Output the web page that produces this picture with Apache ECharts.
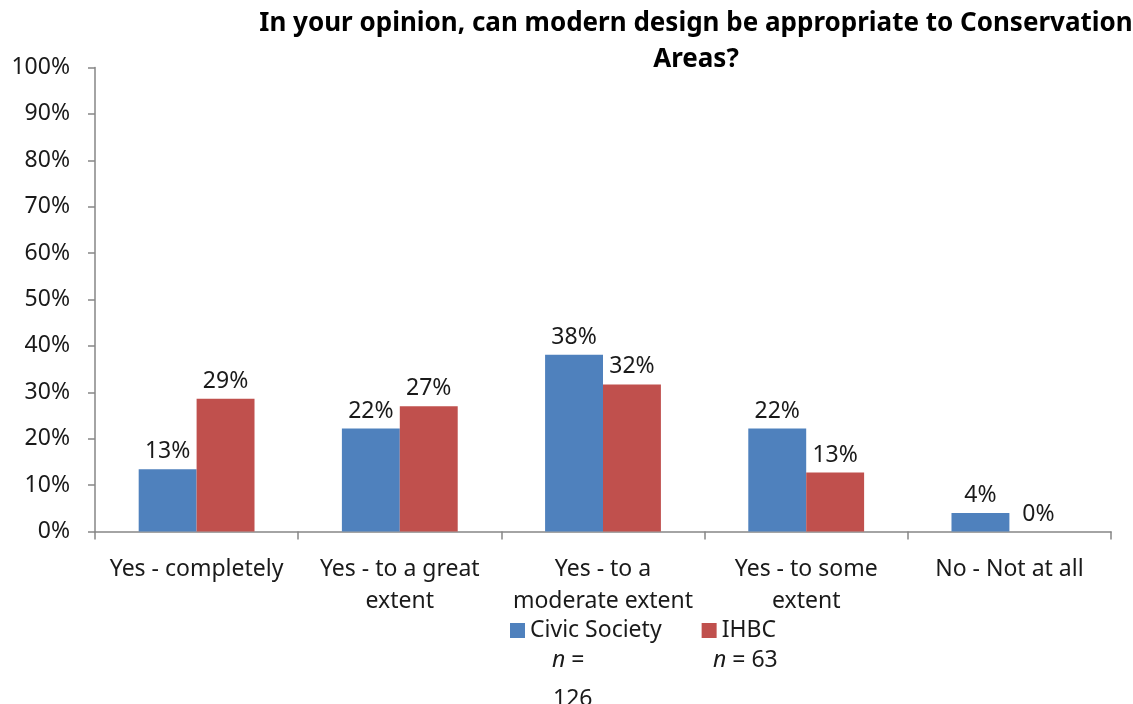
<!DOCTYPE html>
<html><head><meta charset="utf-8">
<script src="https://cdn.jsdelivr.net/npm/echarts@6/dist/echarts.min.js"></script>
<style>html,body{margin:0;padding:0;background:#fff}#c{width:1133px;height:704px}</style>
</head><body><div id="c"></div>
<script>
var categories = ['Yes - completely', 'Yes - to a great extent', 'Yes - to a moderate extent', 'Yes - to some extent', 'No - Not at all'];
var tickLabels = ['Yes - completely', 'Yes - to a great\nextent', 'Yes - to a\nmoderate extent', 'Yes - to some\nextent', 'No - Not at all'];
var civicSociety = [13.4, 22.2, 38.1, 22.2, 4.0];
var ihbc = [28.6, 27.0, 31.7, 12.7, 0];
var seriesNames = ['Civic Society', 'IHBC'];

var FONT = 'Noto Sans';
var FS = 23;
var chart = echarts.init(document.getElementById('c'));
var labelCfg = {show: true, position: 'top', distance: 6, color: '#1a1a1a', fontFamily: FONT, fontSize: FS,
  formatter: function (p) { return Math.round(p.value) + '%'; }};
chart.setOption({
  animation: false,
  title: {
    text: 'In your opinion, can modern design be appropriate to Conservation\nAreas?',
    left: 691, top: 1, textAlign: 'center',
    textStyle: {fontFamily: FONT, fontWeight: 'bold', fontSize: 26, lineHeight: 36, color: '#000'}
  },
  legend: {
    data: seriesNames, left: 510, top: 619, padding: 0, itemWidth: 15, itemHeight: 15, itemGap: 40,
    icon: 'rect', textStyle: {fontFamily: FONT, fontSize: FS, color: '#1a1a1a'}
  },
  grid: {left: 95, right: 22, top: 67.5, bottom: 172.5, containLabel: false},
  xAxis: {
    type: 'category', data: categories,
    axisLine: {lineStyle: {color: '#868686', width: 1.5}},
    axisTick: {show: true, length: 8, lineStyle: {color: '#868686', width: 1.5}},
    axisLabel: {fontFamily: FONT, fontSize: FS, color: '#1a1a1a', margin: 22, lineHeight: 32, interval: 0,
      formatter: function (v, i) { return tickLabels[i]; }}
  },
  yAxis: {
    type: 'value', min: 0, max: 100, interval: 10,
    axisLine: {show: true, lineStyle: {color: '#868686', width: 1.5}},
    axisTick: {show: true, length: 7, lineStyle: {color: '#868686', width: 1.5}},
    splitLine: {show: false},
    axisLabel: {fontFamily: FONT, fontSize: FS, color: '#1a1a1a', margin: 25, formatter: '{value}%'}
  },
  series: [
    {name: seriesNames[0], type: 'bar', data: civicSociety, barGap: '0%', barCategoryGap: '43%',
      itemStyle: {color: '#4F81BD'}, label: labelCfg},
    {name: seriesNames[1], type: 'bar', data: ihbc, barGap: '0%', barCategoryGap: '43%',
      itemStyle: {color: '#C0504D'}, label: labelCfg}
  ],
  graphic: [
    {type: 'text', left: 552, top: 649, style: {text: '{i|n} =', fontFamily: FONT, fontSize: FS, fill: '#1a1a1a',
      rich: {i: {fontStyle: 'italic', fontFamily: FONT, fontSize: FS}}}},
    {type: 'text', left: 553, top: 688, style: {text: '126', fontFamily: FONT, fontSize: FS, fill: '#1a1a1a'}},
    {type: 'text', left: 713, top: 649, style: {text: '{i|n} = 63', fontFamily: FONT, fontSize: FS, fill: '#1a1a1a',
      rich: {i: {fontStyle: 'italic', fontFamily: FONT, fontSize: FS}}}}
  ]
});
</script></body></html>
